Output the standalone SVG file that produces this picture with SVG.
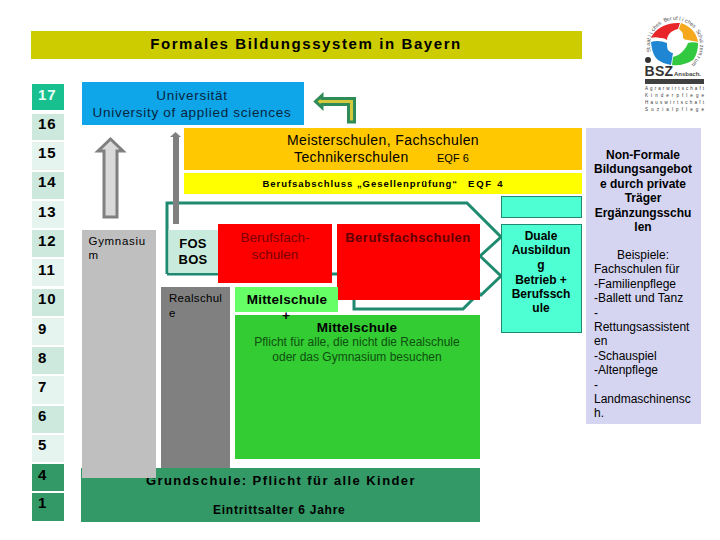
<svg xmlns="http://www.w3.org/2000/svg" width="720" height="540" viewBox="0 0 720 540">
<style>
text{font-family:"Liberation Sans",Arial,sans-serif;fill:#000}
.b{font-weight:bold}
.m{text-anchor:middle}
.age{font-weight:bold;font-size:15px;letter-spacing:1px}
.a{fill:#cde9de}.c{fill:#e6f4ef}.d{fill:#339966}
.n{font-size:12px;font-weight:bold;text-anchor:middle}
.p{font-size:12px}
.lg{font-size:4.500px;fill:#333}
</style>
<rect width="720" height="540" fill="#fff"/>
<g id="title"><rect x="31" y="31" width="551" height="28" fill="#cccc00"/><text class="b m" x="306" y="49" font-size="15" letter-spacing="1.590">Formales Bildungssystem in Bayern</text></g>
<g id="ages">
<rect x="32" y="84" width="32" height="26" fill="#19c08f"/><text class="age" x="38" y="100" style="fill:#e8fff6">17</text>
<rect x="32" y="114" width="32" height="26" class="a"/><text class="age" x="38" y="129">16</text>
<rect x="32" y="142" width="32" height="28" class="c"/><text class="age" x="38" y="158">15</text>
<rect x="32" y="172" width="32" height="27" class="a"/><text class="age" x="38" y="187">14</text>
<rect x="32" y="201" width="32" height="27" class="c"/><text class="age" x="38" y="217">13</text>
<rect x="32" y="230" width="32" height="27" class="a"/><text class="age" x="38" y="246">12</text>
<rect x="32" y="259" width="32" height="27" class="c"/><text class="age" x="38" y="275">11</text>
<rect x="32" y="289" width="32" height="27" class="a"/><text class="age" x="38" y="304">10</text>
<rect x="32" y="318" width="32" height="27" class="c"/><text class="age" x="38" y="334">9</text>
<rect x="32" y="347" width="32" height="27" class="a"/><text class="age" x="38" y="363">8</text>
<rect x="32" y="376" width="32" height="28" class="c"/><text class="age" x="38" y="392">7</text>
<rect x="32" y="406" width="32" height="27" class="a"/><text class="age" x="38" y="421">6</text>
<rect x="32" y="435" width="32" height="27" class="c"/><text class="age" x="38" y="450">5</text>
<rect x="32" y="464" width="32" height="27" class="d"/><text class="age" x="38" y="480">4</text>
<rect x="32" y="493" width="32" height="28" class="d"/><text class="age" x="38" y="508">1</text>
</g>
<g id="uni"><rect x="82" y="82" width="222" height="43" fill="#0ea5e9"/><text class="m" x="192" y="100" font-size="13.500" letter-spacing=".7" style="fill:#06263d">Universität</text><text class="m" x="192" y="117" font-size="13.500" letter-spacing=".7" style="fill:#06263d">University of applied sciences</text></g>
<g id="meister"><rect x="184" y="128" width="398" height="42" fill="#ffc800"/><text class="m" x="383" y="145" font-size="14" letter-spacing=".4">Meisterschulen, Fachschulen</text><text x="294" y="162" font-size="14" letter-spacing=".4">Technikerschulen</text><text x="437" y="162" font-size="11">EQF 6</text></g>
<g id="abschluss"><rect x="184" y="173" width="398" height="21" fill="#ffff00"/><text class="b" x="262.500" y="187" font-size="9.500" letter-spacing=".95">Berufsabschluss „Gesellenprüfung“</text><text class="b" x="468" y="187" font-size="9.500" letter-spacing="1.800">EQF 4</text></g>
<g id="connectors" fill="none" stroke="#1f8a70" stroke-width="3">
<path d="M167 274V203H467L501 237L480 256"/>
<path d="M480 256L501 276L480 296"/>
<path d="M167 274H354M354 296V309H463L480 292"/>
</g>
<g id="arrow-gym"><path d="M104 217V151H98L110.500 139L123 151H117V217Z" fill="#d9d9d9" stroke="#808080" stroke-width="3"/></g>
<g id="arrow-fos"><path d="M173 224V137H170L175.500 132L181 137H179V224Z" fill="#808080"/></g>
<g id="arrow-green"><path d="M354.500 122V98.500H322V95.500L315.500 101.500L322 107.500V104.500H348.500V122Z" fill="#d4c93a" stroke="#2e8b57" stroke-width="3"/></g>
<g id="duale-top"><rect x="501.500" y="196.500" width="80" height="21" fill="#4dffd2" stroke="#1f8a70"/></g>
<g id="duale"><rect x="501.500" y="224.500" width="80" height="108" fill="#4dffd2" stroke="#1f8a70"/><g class="n" style="fill:#0a3d2c"><text x="541" y="240">Duale</text><text x="541" y="254">Ausbildun</text><text x="541" y="269">g</text><text x="541" y="284">Betrieb +</text><text x="541" y="298">Berufssch</text><text x="541" y="312">ule</text></g></g>
<g id="nonformal"><rect x="586" y="128" width="115" height="296" fill="#d5d5f2"/>
<g class="n"><text x="643" y="159">Non-Formale</text><text x="643" y="173">Bildungsangebot</text><text x="643" y="188">e durch private</text><text x="643" y="202">Träger</text><text x="643" y="217">Ergänzungsschu</text><text x="643" y="231">len</text></g>
<text class="p m" x="643" y="259">Beispiele:</text><text class="p" x="594" y="273">Fachschulen für</text><text class="p" x="594" y="288">-Familienpflege</text><text class="p" x="594" y="302">-Ballett und Tanz</text><text class="p" x="594" y="317">-</text><text class="p" x="594" y="331">Rettungsassistent</text><text class="p" x="594" y="345">en</text><text class="p" x="594" y="360">-Schauspiel</text><text class="p" x="594" y="374">-Altenpflege</text><text class="p" x="594" y="389">-</text><text class="p" x="594" y="403">Landmaschinensc</text><text class="p" x="594" y="417">h.</text></g>
<g id="fos"><rect x="168.500" y="230" width="51" height="43" fill="#c8ebdd"/><text class="b m" x="193" y="248" font-size="13" letter-spacing=".3">FOS</text><text class="b m" x="193" y="264" font-size="13" letter-spacing=".3">BOS</text></g>
<g id="berufs1"><rect x="218" y="224" width="114" height="59" fill="#ff0000"/><text class="m" x="275" y="242" font-size="13.500" style="fill:#7a0000">Berufsfach-</text><text class="m" x="275" y="259" font-size="13.500" style="fill:#7a0000">schulen</text></g>
<g id="berufs2"><rect x="337" y="224" width="143" height="76" fill="#ff0000"/><text class="b m" x="408" y="242" font-size="13" style="fill:#600000" letter-spacing=".5">Berufsfachschulen</text></g>
<g id="grund"><rect x="81" y="468" width="399" height="54" fill="#339966"/><text class="b" x="146" y="485" font-size="13" letter-spacing="1.420">Grundschule: Pflicht für alle Kinder</text><text class="b" x="213" y="513.500" font-size="12" letter-spacing=".75">Eintrittsalter 6 Jahre</text></g>
<g id="gym"><rect x="82" y="230" width="74" height="248" fill="#bfbfbf"/><text x="88.500" y="245" font-size="11.500" letter-spacing=".7">Gymnasiu</text><text x="88.500" y="259" font-size="11.500">m</text></g>
<g id="real"><rect x="161" y="287" width="69" height="181" fill="#808080"/><text x="169" y="302" font-size="11.500" letter-spacing=".3">Realschul</text><text x="169" y="317" font-size="11.500">e</text></g>
<g id="mittel-top"><rect x="235" y="287" width="103" height="25" fill="#66ff66"/><text class="b m" x="287" y="303.500" font-size="13.500" letter-spacing=".2">Mittelschule</text></g>
<g id="mittel"><rect x="235" y="315" width="245" height="144" fill="#33cc33"/><text class="b m" x="357" y="332" font-size="13.500" letter-spacing=".2">Mittelschule</text><text class="m" x="357" y="346" font-size="12" style="fill:#0f4f0f">Pflicht für alle, die nicht die Realschule</text><text class="m" x="357" y="361" font-size="12" style="fill:#0f4f0f">oder das Gymnasium besuchen</text></g>
<text class="b m" x="286" y="320" font-size="13">+</text>
<g id="logo">
<path d="M651 38C655 28 668 22 680 23L678 29C674 30 672 31 670 33C668 35 667 38 667 40C664 38 662 38 660 38C657 37 654 37 651 38Z" fill="#e8262a"/>
<path d="M681 23C690 26 697 33 698 42C695 41 691 41 688 40C685 40 684 39 683 38C683 35 683 33 682 32L679 29Z" fill="#f5a81c"/>
<path d="M698 43C698 51 696 56 693 60C687 64 679 66 672 65L673 57C677 56 680 54 682 52C685 49 687 46 688 43C691 42 695 42 698 43Z" fill="#32c840"/>
<path d="M651 42C656 40 662 41 667 43C667 46 667 48 668 50C670 52 671 53 673 53L671 65C665 64 661 62 658 60C654 56 652 52 651 42Z" fill="#1e86d2"/>
<circle cx="648" cy="60" r="3" fill="#333"/>
<text font-size="5.500" style="fill:#555" x="650.9 650.3 650 650.1 650.5 651.3 652.4 653.8 655.4 657.4 659.6 662 664.6 667.3 670.2 673 675.9 678.9 681.7 684.5 687.2 689.6 691.9 693.9 695.7 697.2 698.4 699.2 699.8 700 699.9 699.4 698.5 697.4 696 694.3" y="51.5 48.6 45.7 42.8 39.9 37.1 34.4 31.8 29.4 27.2 25.3 23.6 22.2 21.2 20.5 20.1 20 20.3 20.9 21.9 23.1 24.7 26.6 28.6 30.9 33.4 36.1 38.9 41.8 44.7 47.6 50.5 53.3 56 58.5 60.9" rotate="-105 -98 -92 -85 -78 -71 -65 -58 -51 -45 -38 -31 -25 -18 -11 -4 2 9 16 22 29 36 42 49 56 62 69 76 83 89 96 103 109 116 123 130">Staatliches Berufliches Schulzentrum</text>
<text class="b" x="644.500" y="75.500" font-size="14" style="fill:#333" letter-spacing=".3">BSZ</text><text class="b" x="674" y="75.500" font-size="6" style="fill:#444">Ansbach.</text>
<rect x="645" y="79" width="59" height="5" fill="#404040"/>
<text class="lg" x="645" y="90" textLength="59" lengthAdjust="spacing">Agrarwirtschaft</text><text class="lg" x="645" y="97" textLength="59" lengthAdjust="spacing">Kinderpflege</text><text class="lg" x="645" y="104" textLength="59" lengthAdjust="spacing">Hauswirtschaft</text><text class="lg" x="645" y="110.500" textLength="59" lengthAdjust="spacing">Sozialpflege</text>
</g>
</svg>
